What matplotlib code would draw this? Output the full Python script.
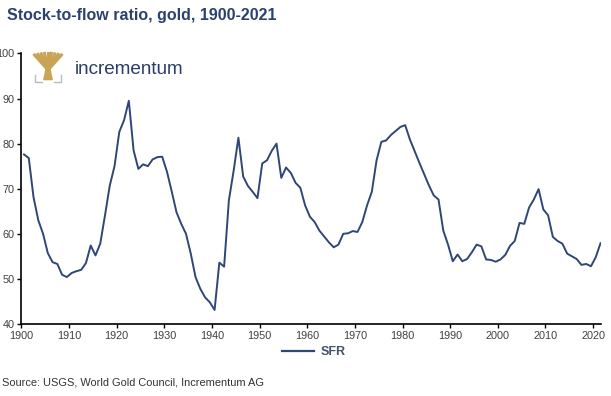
import numpy as np
import matplotlib.pyplot as plt
from matplotlib.lines import Line2D
from matplotlib.patches import Polygon

plt.rcParams['font.family'] = ['Liberation Sans', 'DejaVu Sans']

years = np.arange(1900, 2022)
sfr = [77.6, 76.8, 68.1, 63.0, 60.0, 55.7, 53.7, 53.3, 50.9, 50.4,
       51.3, 51.7, 52.0, 53.5, 57.4, 55.2, 57.8, 64.1, 70.7, 75.0,
       82.6, 85.2, 89.5, 78.5, 74.4, 75.4, 75.0, 76.5, 77.0, 77.1,
       73.8, 69.4, 64.8, 62.2, 60.0, 55.6, 50.4, 47.8, 45.9, 44.8,
       43.1, 53.6, 52.7, 67.4, 74.0, 81.3, 72.7, 70.6, 69.3, 67.9,
       75.6, 76.3, 78.4, 80.0, 72.4, 74.7, 73.5, 71.3, 70.2, 66.3,
       63.8, 62.6, 60.7, 59.4, 58.1, 57.0, 57.6, 60.0, 60.1, 60.6,
       60.4, 62.6, 66.3, 69.3, 76.3, 80.4, 80.7, 81.9, 82.8, 83.7,
       84.1, 80.9, 78.3, 75.7, 73.2, 70.7, 68.5, 67.6, 60.7, 57.6,
       53.9, 55.4, 53.9, 54.4, 55.9, 57.6, 57.2, 54.3, 54.2, 53.8,
       54.3, 55.3, 57.3, 58.4, 62.4, 62.2, 65.8, 67.6, 69.9, 65.4,
       64.1, 59.3, 58.4, 57.8, 55.6, 55.0, 54.4, 53.1, 53.3, 52.8,
       54.8, 57.9]

xticks = np.arange(1900, 2021, 10)
yticks = np.arange(40, 101, 10)

navy = '#2F4676'
txt = '#404040'

fig = plt.figure(figsize=(6.11, 3.96), dpi=100)
ax = fig.add_axes([0.035, 0.182, 0.949, 0.683])

# values plotted mid-year
ax.plot(years + 0.55, sfr, color=navy, lw=1.4, solid_joinstyle='round')

ax.set_xlim(1900, 2021.7)
ax.set_ylim(40, 100)
ax.set_xticks(xticks)
ax.set_yticks(yticks)
ax.tick_params(axis='both', colors='black', labelcolor=txt, labelsize=7.8,
               length=3, width=1)
ax.tick_params(axis='y', pad=2)
ax.tick_params(axis='x', pad=2)
for s in ['top', 'right']:
    ax.spines[s].set_visible(False)
for s in ['left', 'bottom']:
    ax.spines[s].set_linewidth(1.2)

fig.text(0.012, 0.962, 'Stock-to-flow ratio, gold, 1900-2021', color='#2B4170',
         fontsize=11.5, fontweight='bold', va='center', ha='left')

# logo
fig.text(0.122, 0.825, 'incrementum', color='#2B3C6B', fontsize=13.6,
         va='center', ha='left')
gold = '#C8A456'
lx, ly, w, h = 33 / 611, 1 - 82 / 396, 30 / 611, 30 / 396
trunk = Polygon([[lx + 0.36 * w, ly + 0.08 * h], [lx + 0.64 * w, ly + 0.08 * h],
                 [lx + 0.56 * w, ly + 0.45 * h], [lx + 0.44 * w, ly + 0.45 * h]],
                closed=True, color=gold, transform=fig.transFigure)
fig.patches.append(trunk)
for dx in np.linspace(-0.45, 0.45, 9):
    fig.lines.append(Line2D([lx + 0.5 * w, lx + (0.5 + 0.6 * dx) * w, lx + (0.5 + dx) * w],
                            [ly + 0.4 * h, ly + 0.7 * h, ly + (0.97 - 0.15 * abs(dx)) * h],
                            color=gold, lw=2.2, transform=fig.transFigure))
fig.lines.append(Line2D([lx + 0.05 * w, lx + 0.05 * w, lx + 0.3 * w],
                        [ly + 0.25 * h, ly, ly], color='#BBBBBB', lw=1,
                        transform=fig.transFigure))
fig.lines.append(Line2D([lx + 0.7 * w, lx + 0.95 * w, lx + 0.95 * w],
                        [ly, ly, ly + 0.25 * h], color='#BBBBBB', lw=1,
                        transform=fig.transFigure))

# legend
handle = Line2D([], [], color=navy, lw=1.6)
fig.legend([handle], ['SFR'], loc='center', bbox_to_anchor=(0.513, 0.111),
           frameon=False, prop={'size': 9, 'weight': 'bold'},
           labelcolor='#44546A', handlelength=2.6, handletextpad=0.5)

fig.text(0.003, 0.033, 'Source: USGS, World Gold Council, Incrementum AG',
         color='#333333', fontsize=7.9, va='center', ha='left')

fig.savefig('out.png', dpi=100)
